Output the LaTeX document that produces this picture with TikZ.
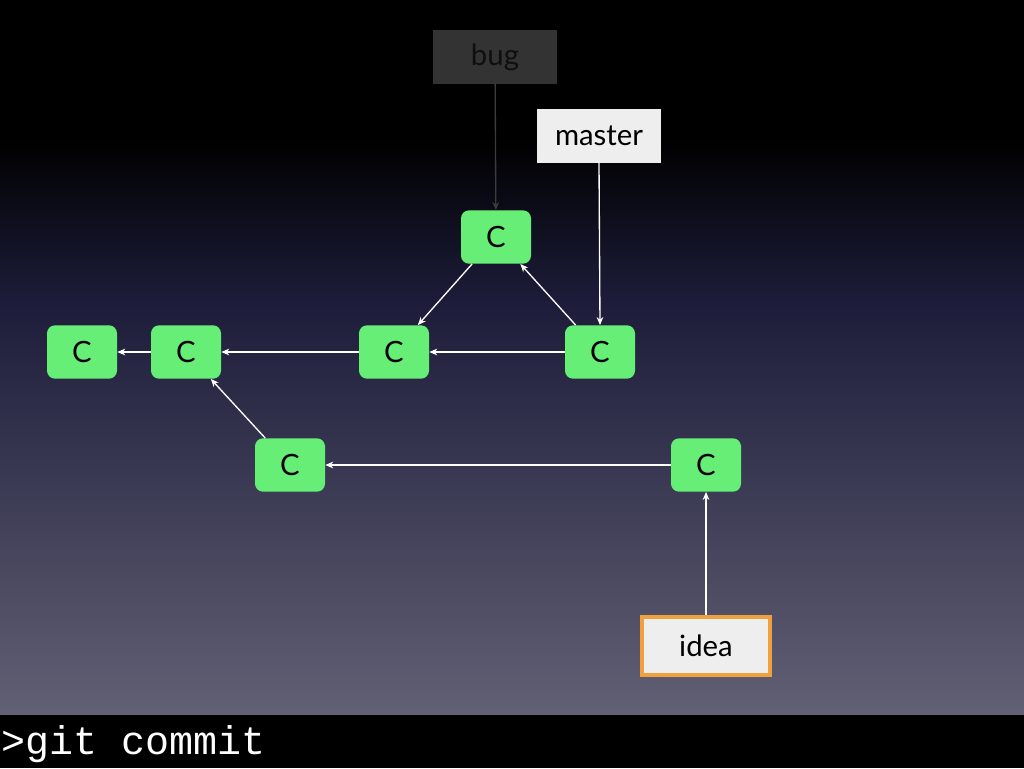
\documentclass[tikz,border=0pt]{standalone}
\usetikzlibrary{arrows.meta}
\usepackage{fontspec}
\setmainfont{Lato}
\setmonofont{Liberation Mono}
\begin{document}
\begin{tikzpicture}[x=0.75pt,y=-0.75pt,
  commit/.style={draw=none,fill={rgb,255:red,102;green,238;blue,119},rounded corners=6pt,minimum width=52.5pt,minimum height=40pt,inner sep=0pt,font=\fontsize{22}{22}\selectfont},
  label/.style={minimum width=93pt,minimum height=40pt,inner sep=0pt,font=\fontsize{22}{22}\selectfont},
  edge/.style={draw=white,line width=1pt,-{Stealth[length=6pt,width=5pt]}}]
\useasboundingbox (0,0) rectangle (1024,768);
\fill[black] (0,0) rectangle (1024,140);
\shade[top color=black,bottom color={rgb,255:red,28;green,28;blue,58}] (0,139) rectangle (1024,300);
\shade[top color={rgb,255:red,28;green,28;blue,58},bottom color={rgb,255:red,98;green,96;blue,116}] (0,299) rectangle (1024,715);
\fill[black] (0,715) rectangle (1024,768);
\node[anchor=west,text=white,font=\ttfamily\fontsize{30}{30}\selectfont,inner sep=0pt] (cmd) at (1,744) {>git commit};
\node[commit] (c1) at (82,352) {C};
\node[commit] (c2) at (186,352) {C};
\node[commit] (c3) at (394,352) {C};
\node[commit] (c4) at (600,352) {C};
\node[commit] (c5) at (496,237) {C};
\node[commit] (c6) at (290,465) {C};
\node[commit] (c7) at (706,465) {C};
\node[label,fill={rgb,255:red,51;green,51;blue,51},text={rgb,255:red,15;green,15;blue,15}] (bug) at (495,57) {bug};
\node[label,fill={rgb,255:red,238;green,238;blue,238}] (master) at (599,136) {master};
\node[label,fill={rgb,255:red,238;green,238;blue,238},draw={rgb,255:red,240;green,160;blue,60},line width=3pt,minimum width=96pt,minimum height=43pt] (idea) at (706,646) {idea};
\draw[edge,draw={rgb,255:red,60;green,60;blue,60}] (bug) -- (c5);
\draw[edge] (master.south) -- (c4.north);
\draw[edge] (idea) -- (c7);
\draw[edge] (c4) -- (c3);
\draw[edge] (c4) -- (c5);
\draw[edge] (c5) -- (c3);
\draw[edge] (c3) -- (c2);
\draw[edge] (c2) -- (c1);
\draw[edge] (c6) -- (c2);
\draw[edge] (c7) -- (c6);
\end{tikzpicture}
\end{document}
